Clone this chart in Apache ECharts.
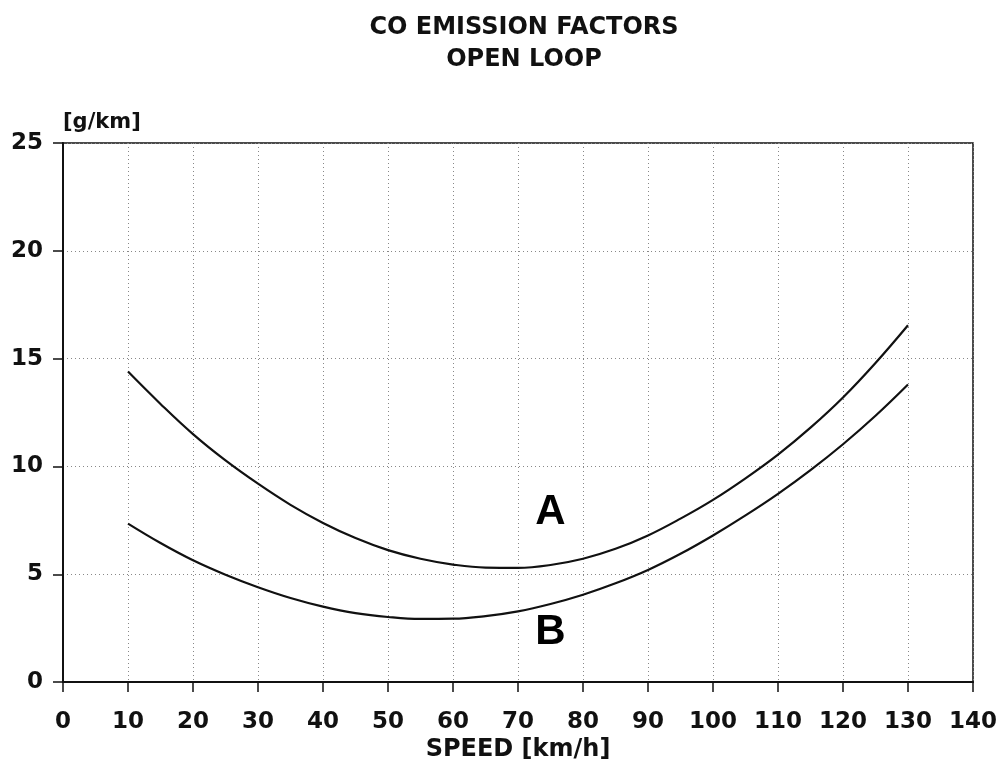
<!DOCTYPE html>
<html>
<head>
<meta charset="utf-8">
<script src="https://cdn.jsdelivr.net/npm/echarts@6/dist/echarts.min.js"></script>
<style>html,body{margin:0;padding:0;background:#fff}#c{width:1008px;height:767px}</style>
</head>
<body>
<div id="c"></div>
<script>
const speeds = [10,15,20,25,30,35,40,45,50,55,60,65,70,75,80,85,90,95,100,105,110,115,120,125,130];
const curveA = [14.4,12.9,11.5,10.28,9.2,8.22,7.38,6.68,6.12,5.72,5.45,5.31,5.3,5.43,5.72,6.18,6.8,7.58,8.45,9.45,10.55,11.8,13.2,14.8,16.55];
const curveB = [7.35,6.45,5.65,4.98,4.4,3.9,3.5,3.2,3.02,2.93,2.94,3.06,3.28,3.62,4.05,4.58,5.2,5.95,6.8,7.73,8.73,9.83,11.03,12.35,13.8];
const curveLabels = ['A','B'];
const labelPos = [[75,7.85],[75,2.3]];
const titleLines = ['CO EMISSION FACTORS','OPEN LOOP'];
const xName = 'SPEED [km/h]';
const yName = '[g/km]';

const font = '"DejaVu Sans", sans-serif';
const chart = echarts.init(document.getElementById('c'));
chart.setOption({
  backgroundColor:'#fff',
  animation:false,
  title:{text:titleLines.join('\n'),left:519,textAlign:'center',top:7,
    textStyle:{fontFamily:font,fontWeight:'bold',fontSize:24,lineHeight:32,color:'#111'}},
  grid:{left:63,right:35,top:143,bottom:83,show:true,borderColor:'#111',borderWidth:1.5,backgroundColor:'transparent'},
  xAxis:{type:'value',min:0,max:140,interval:10,
    name:xName,nameLocation:'middle',nameGap:54,
    nameTextStyle:{fontFamily:font,fontWeight:'bold',fontSize:24,color:'#111'},
    axisLine:{show:true,onZero:false,lineStyle:{color:'#111',width:2}},
    axisTick:{show:true,length:10,lineStyle:{color:'#111',width:1.5}},
    axisLabel:{fontFamily:font,fontWeight:'bold',fontSize:23,color:'#111',margin:28},
    splitLine:{show:true,lineStyle:{color:'#888',type:[1,3],width:1}}},
  yAxis:{type:'value',min:0,max:25,interval:5,
    name:yName,nameLocation:'end',nameGap:10,
    nameTextStyle:{fontFamily:font,fontWeight:'bold',fontSize:21,color:'#111',align:'left'},
    axisLine:{show:true,onZero:false,lineStyle:{color:'#111',width:2}},
    axisTick:{show:true,length:10,lineStyle:{color:'#111',width:1.5}},
    axisLabel:{fontFamily:font,fontWeight:'bold',fontSize:23,color:'#111',margin:20},
    splitLine:{show:true,lineStyle:{color:'#888',type:[1,3],width:1}}},
  series:[
    {type:'line',data:speeds.map((s,i)=>[s,curveA[i]]),smooth:0.4,showSymbol:false,lineStyle:{color:'#111',width:2.2}},
    {type:'line',data:speeds.map((s,i)=>[s,curveB[i]]),smooth:0.4,showSymbol:false,lineStyle:{color:'#111',width:2.2}},
    {type:'scatter',symbolSize:0,itemStyle:{opacity:1},data:labelPos.map((p,i)=>({value:p,name:curveLabels[i]})),
      label:{show:true,position:'inside',formatter:'{b}',opacity:1,fontFamily:'"Liberation Sans", Arial, sans-serif',fontWeight:'bold',fontSize:42,color:'#000'}}
  ]
});
</script>
</body>
</html>
